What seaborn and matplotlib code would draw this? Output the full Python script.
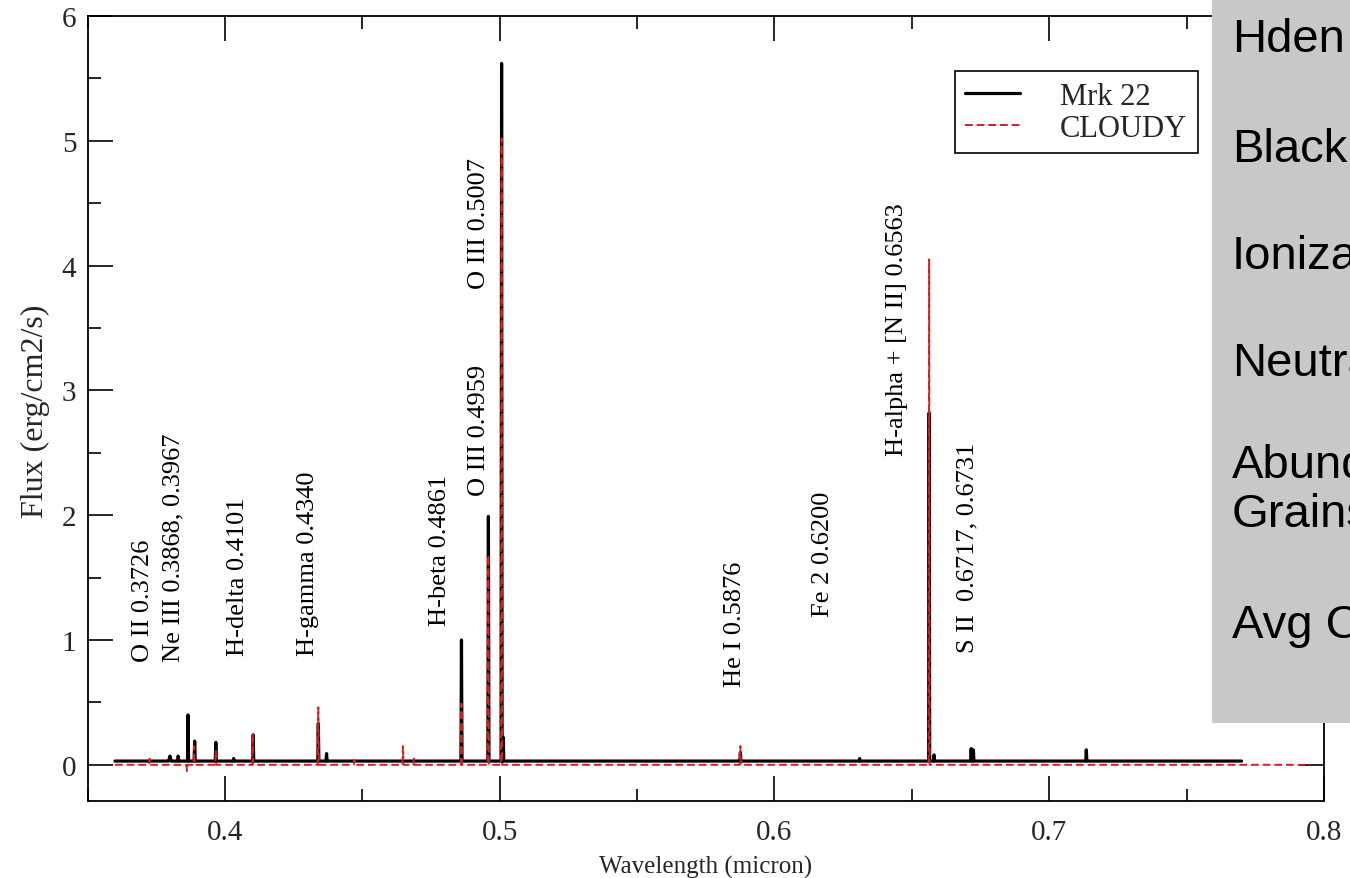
import matplotlib
matplotlib.use("Agg")
import matplotlib.pyplot as plt
import matplotlib.patches as mpatches
from matplotlib.ticker import MultipleLocator
import seaborn as sns
import pandas as pd

# ---------------- data ----------------
mrk22_wl = [0.3600, 0.3795, 0.3800, 0.3805, 0.3828, 0.3830, 0.3832,
            0.3864, 0.3866, 0.3868, 0.3888, 0.3890, 0.3892,
            0.3965, 0.3967, 0.3969, 0.4030, 0.4032, 0.4034,
            0.4101, 0.4103, 0.4105, 0.4338, 0.4340, 0.4342,
            0.4368, 0.4370, 0.4372, 0.4859, 0.4861, 0.4863,
            0.4957, 0.4959, 0.4961, 0.5005, 0.5007, 0.5009,
            0.5011, 0.5013, 0.5015, 0.5874, 0.5876, 0.5878,
            0.6308, 0.6310, 0.6312, 0.6561, 0.6563, 0.6565,
            0.6579, 0.6581, 0.6583, 0.6714, 0.6716, 0.6718,
            0.6722, 0.6724, 0.6726, 0.7133, 0.7135, 0.7137, 0.7700]
mrk22_flux = [0.03, 0.03, 0.07, 0.03, 0.03, 0.07, 0.03,
              0.03, 0.40, 0.03, 0.03, 0.19, 0.03,
              0.03, 0.18, 0.03, 0.03, 0.05, 0.03,
              0.03, 0.24, 0.03, 0.03, 0.33, 0.03,
              0.03, 0.09, 0.03, 0.03, 1.00, 0.03,
              0.03, 1.99, 0.03, 0.03, 5.62, 0.03,
              0.03, 0.22, 0.03, 0.03, 0.10, 0.03,
              0.03, 0.05, 0.03, 0.03, 2.82, 0.03,
              0.03, 0.08, 0.03, 0.03, 0.13, 0.03,
              0.03, 0.12, 0.03, 0.03, 0.12, 0.03, 0.03]

cloudy_wl = [0.3600, 0.3724, 0.3726, 0.3728, 0.3860, 0.3862, 0.3864,
             0.3886, 0.3888, 0.3890, 0.3965, 0.3967, 0.3969,
             0.4099, 0.4101, 0.4103, 0.4338, 0.4340, 0.4342,
             0.4469, 0.4471, 0.4473, 0.4646, 0.4648, 0.4650,
             0.4686, 0.4688, 0.4690, 0.4859, 0.4861, 0.4863,
             0.4957, 0.4959, 0.4961, 0.5005, 0.5007, 0.5009,
             0.5874, 0.5876, 0.5878, 0.6561, 0.6563, 0.6565, 0.7950]
cloudy_flux = [0.00, 0.00, 0.05, 0.00, 0.00, -0.05, 0.00,
               0.00, 0.15, 0.00, 0.00, 0.12, 0.00,
               0.00, 0.25, 0.00, 0.00, 0.46, 0.00,
               0.00, 0.04, 0.00, 0.00, 0.15, 0.00,
               0.00, 0.05, 0.00, 0.00, 0.49, 0.00,
               0.00, 1.68, 0.00, 0.00, 5.02, 0.00,
               0.00, 0.15, 0.00, 0.00, 4.05, 0.00, 0.00]

line_labels = ["O II 0.3726", "Ne III 0.3868, 0.3967", "H-delta 0.4101",
               "H-gamma 0.4340", "H-beta 0.4861", "O III 0.4959",
               "O III 0.5007", "He I 0.5876", "Fe 2 0.6200",
               "H-alpha + [N II] 0.6563", "S II  0.6717, 0.6731"]
label_x = [0.3702, 0.3811, 0.4047, 0.4302, 0.4782, 0.4925,
           0.4925, 0.5855, 0.6175, 0.6447, 0.6702]
label_y = [0.83, 0.83, 0.88, 0.88, 1.12, 2.16, 3.82, 0.63, 1.19, 2.48, 0.90]

panel_lines = ["Hden", "Black", "Ioniza", "Neutra", "Abund", "Grains", "Avg C"]
panel_ypix = [40, 150, 257, 364, 466, 515, 626]

# ---------------- style ----------------
sns.set_theme(style="ticks")
plt.rcParams["font.family"] = ["Liberation Serif", "DejaVu Serif"]

W, H = 1350, 879
fig = plt.figure(figsize=(W / 100, H / 100), dpi=100)
ax = fig.add_axes([87.5 / W, 1 - 802 / H, (1324 - 87.5) / W, (802 - 17) / H])

df_obs = pd.DataFrame({"wl": mrk22_wl, "flux": mrk22_flux})
df_mod = pd.DataFrame({"wl": cloudy_wl, "flux": cloudy_flux})

sns.lineplot(data=df_obs, x="wl", y="flux", color="black", lw=2.3,
             estimator=None, sort=False, ax=ax, label="Mrk 22")
sns.lineplot(data=df_mod, x="wl", y="flux", color="#d81e1e", lw=1.4,
             linestyle=(0, (4, 2)), estimator=None, sort=False, ax=ax,
             label="CLOUDY")

ax.set_xlim(0.35, 0.8)
ax.set_ylim(-0.29, 6)
ax.xaxis.set_major_locator(MultipleLocator(0.1))
ax.xaxis.set_minor_locator(MultipleLocator(0.05))
ax.yaxis.set_major_locator(MultipleLocator(1))
ax.yaxis.set_minor_locator(MultipleLocator(0.5))
ax.set_xticks([0.4, 0.5, 0.6, 0.7, 0.8])
ax.set_xticklabels(["0.4", "0.5", "0.6", "0.7", "0.8"])

ax.tick_params(which="both", direction="in", top=True, right=True,
               color="black", width=1.2)
ax.tick_params(which="major", length=18, labelsize=21)
ax.tick_params(which="minor", length=9)
ax.tick_params(axis="x", which="major", pad=13)
ax.tick_params(axis="y", which="major", pad=8)
for s in ax.spines.values():
    s.set_linewidth(1.3)
    s.set_color("black")

ax.set_xlabel("Wavelength (micron)", fontsize=18, va="bottom")
ax.set_ylabel("Flux (erg/cm2/s)", fontsize=23)
ax.xaxis.set_label_coords(0.5, -0.0975)
ax.yaxis.set_label_coords(-0.030, 0.498)

for txt, lx, ly in zip(line_labels, label_x, label_y):
    ax.text(lx, ly, txt, rotation=90, ha="center", va="bottom", fontsize=19,
            color="black")

leg = ax.legend(loc="upper right", bbox_to_anchor=(0.898, 0.930),
                borderaxespad=0, fontsize=22, frameon=True, fancybox=False,
                framealpha=1, edgecolor="black", handlelength=1.8,
                handletextpad=1.3, borderpad=0.35, labelspacing=0.1)
leg.get_frame().set_linewidth(1.2)

# grey info panel on the right (cut off at the figure edge, as in the original)
fig.add_artist(mpatches.Rectangle((1212 / W, 1 - 724 / H), (W - 1212) / W, 724 / H,
                                  transform=fig.transFigure, facecolor="#c8c8c8",
                                  edgecolor="none", zorder=10))
for t, yp in zip(panel_lines, panel_ypix):
    fig.text(1232 / W, 1 - yp / H, t, fontsize=34, va="center", ha="left",
             family=["Liberation Sans", "DejaVu Sans"], color="black", zorder=11)

fig.savefig("out.png", dpi=100)
